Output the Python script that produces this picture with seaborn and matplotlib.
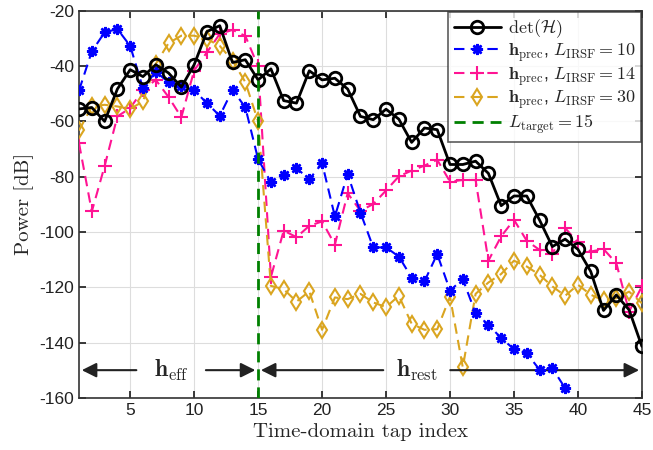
import numpy as np
import pandas as pd
import matplotlib
matplotlib.use("Agg")
import matplotlib.pyplot as plt
import seaborn as sns

# tap indices
taps = np.arange(1, 46)

# det(H)
det_h = [-55.5, -55, -60, -48.3, -41.3, -43.8, -39.5, -42.5, -47.6, -39.5,
         -27.5, -25.4, -38.7, -37.7, -45, -41, -52.5, -53.4, -41.7, -45,
         -44.4, -48.3, -58.2, -59.4, -55.6, -59.2, -67.6, -62.4, -63, -75.6,
         -75.6, -74.4, -78.8, -90.5, -87, -87, -95.7, -105.3, -102.6, -106.3,
         -114.3, -128.4, -122.8, -128.2, -141.4]

# h_prec, L_IRSF = 10 (ends at tap 39)
h_10 = [-48.8, -34.7, -27.8, -26.6, -32.7, -48, -42, -45.9, -47.1, -48.8,
        -53.4, -58, -48.6, -54.9, -73.7, -82, -79.3, -76.9, -81, -75.1,
        -94.4, -79.1, -93, -105.6, -105.6, -108.9, -116.5, -117.9, -108, -121.2,
        -117.1, -129.4, -133.6, -138.4, -142.4, -143.8, -149.9, -149.3, -156.5]

# h_prec, L_IRSF = 14
h_14 = [-67.9, -92.6, -76.2, -58.2, -55.2, -48.6, -45, -51.2, -58.5, -41.6,
        -35, -28.4, -26.9, -29.1, -40.1, -116.3, -99.5, -101.9, -97.8, -96.2,
        -104.6, -86, -92.4, -89.9, -85, -79.9, -77.8, -76, -73.9, -81.8,
        -81.2, -81.2, -110.4, -101.6, -95.6, -103.2, -106.5, -108, -98.6, -103.8,
        -107.1, -106.2, -111.3, -128.8, -119.7]

# h_prec, L_IRSF = 30
h_30 = [-63.3, -54.6, -54, -54.6, -55.5, -52.8, -39.2, -31.7, -29, -29,
        -30.2, -32.7, -38, -45.8, -60, -119.5, -120.7, -125.2, -121.5, -135.4,
        -123.7, -124.3, -122.4, -125.5, -127.2, -123.1, -133.2, -135.4, -135.2, -123.4,
        -149, -122.4, -118.3, -115.2, -110.4, -112.5, -115.5, -119.7, -123.1, -119.1,
        -122.7, -124.8, -124, -121.6, -125.8]

L_target = 15

x_ticks = [5, 10, 15, 20, 25, 30, 35, 40, 45]
y_ticks = [-160, -140, -120, -100, -80, -60, -40, -20]

sns.set_theme(style="ticks")
plt.rcParams['font.family'] = ['Liberation Sans', 'DejaVu Sans']
plt.rcParams['mathtext.fontset'] = 'cm'
plt.rcParams['axes.unicode_minus'] = False

fig, ax = plt.subplots(figsize=(6.53, 4.5), dpi=100)
fig.subplots_adjust(left=0.121, right=0.983, top=0.976, bottom=0.116)

sns.lineplot(x=taps, y=det_h, ax=ax, color='black', lw=2, marker='o', ms=9,
             mfc='none', mec='black', mew=2, label=r'$\det(\boldsymbol{\mathcal{H}})$', zorder=5)
sns.lineplot(x=taps[:len(h_10)], y=h_10, ax=ax, color='blue', lw=1.5, linestyle=(0, (5, 3)),
             marker=(8, 2, 0), ms=8, mec='blue', mew=1.8,
             label=r'$\mathbf{h}_{\rm prec}$, $L_{\rm IRSF} = 10$', zorder=4)
sns.lineplot(x=taps, y=h_14, ax=ax, color='#FF1493', lw=1.5, linestyle=(0, (5, 3)),
             marker='+', ms=10, mec='#FF1493', mew=1.5,
             label=r'$\mathbf{h}_{\rm prec}$, $L_{\rm IRSF} = 14$', zorder=3)
sns.lineplot(x=taps, y=h_30, ax=ax, color='#DAA520', lw=1.5, linestyle=(0, (5, 3)),
             marker='d', ms=8, mfc='none', mec='#DAA520', mew=1.5,
             label=r'$\mathbf{h}_{\rm prec}$, $L_{\rm IRSF} = 30$', zorder=3)
ax.axvline(L_target, color='#008000', lw=2, linestyle=(0, (4, 2.5)),
           label=r'$L_{\rm target} = 15$', zorder=6)

# h_eff / h_rest arrows
arr = dict(arrowstyle='-|>', color='#222222', lw=1.5, mutation_scale=22)
ax.annotate('', xy=(1, -150), xytext=(5.7, -150), arrowprops=arr)
ax.annotate('', xy=(15, -150), xytext=(10.7, -150), arrowprops=arr)
ax.annotate('', xy=(15, -150), xytext=(25, -150), arrowprops=arr)
ax.annotate('', xy=(45, -150), xytext=(29.8, -150), arrowprops=arr)
ax.text(8.2, -150, r'$\mathbf{h}_{\rm eff}$', fontsize=17, ha='center', va='center')
ax.text(27.4, -150, r'$\mathbf{h}_{\rm rest}$', fontsize=17, ha='center', va='center')

ax.set_xlim(1, 45)
ax.set_ylim(-160, -20)
ax.set_xticks(x_ticks)
ax.set_yticks(y_ticks)
ax.grid(True, color='#dddddd', lw=0.8)
ax.tick_params(direction='in', top=True, right=True, labelsize=12.5, colors='#222222', length=5)
for s in ax.spines.values():
    s.set_color('#333333')
    s.set_linewidth(1.2)

ax.set_xlabel('Time-domain tap index', fontfamily='cmr10', fontsize=15)
ax.set_ylabel('Power [dB]', fontfamily='cmr10', fontsize=15)

leg = ax.legend(loc='upper right', fontsize=13, frameon=True, fancybox=False,
                edgecolor='#333333', handlelength=2.6, borderpad=0.3,
                labelspacing=0.05, handletextpad=0.4, borderaxespad=0.05)
leg.get_frame().set_linewidth(1.2)

fig.savefig('out.png', dpi=100)
